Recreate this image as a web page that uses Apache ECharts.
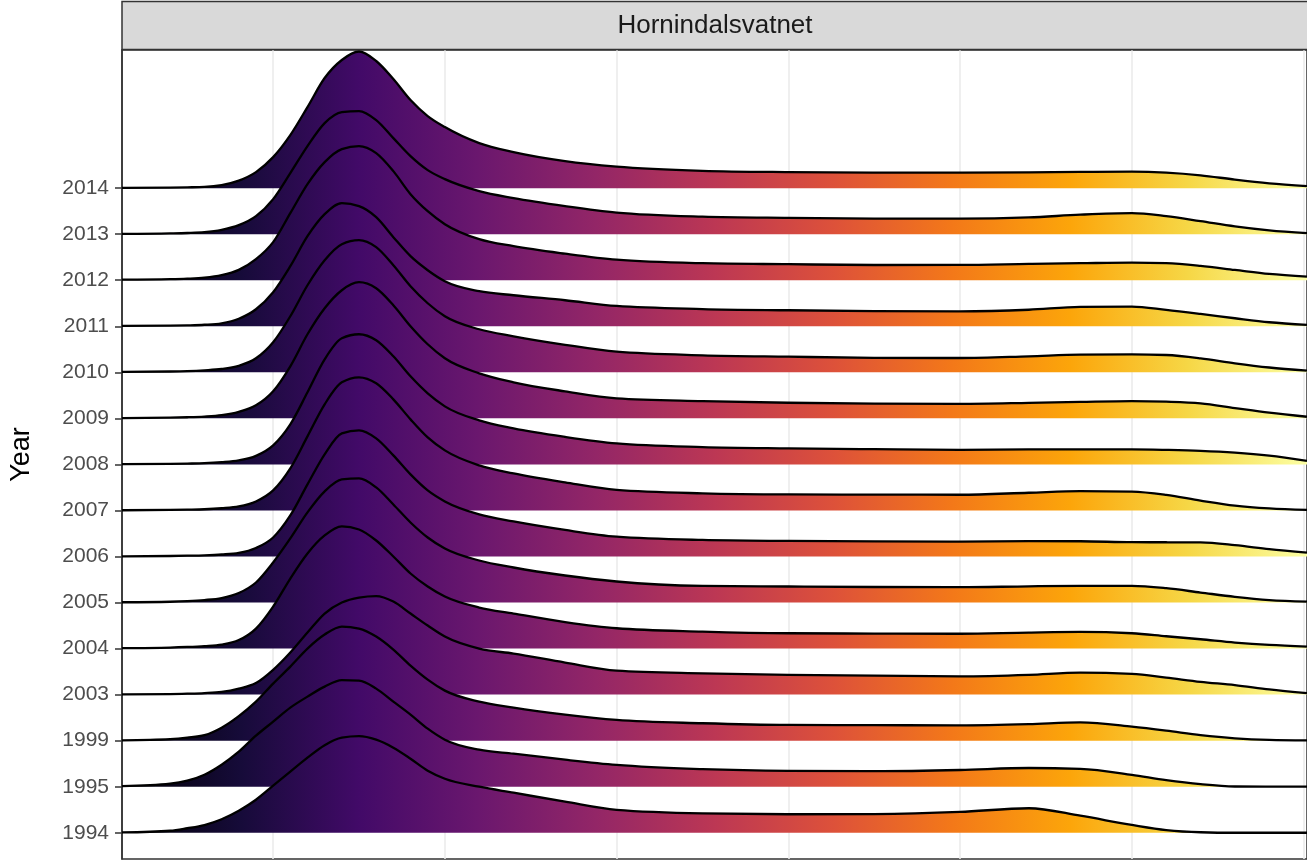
<!DOCTYPE html>
<html>
<head>
<meta charset="utf-8">
<script src="https://cdn.jsdelivr.net/npm/echarts@6/dist/echarts.min.js"></script>
<style>
html, body { margin: 0; padding: 0; background: #ffffff; }
#chart { width: 1307px; height: 860px; }
</style>
</head>
<body>
<div id="chart"></div>
<script>
// ---- data ----
const panelTitle = 'Hornindalsvatnet';
const yTitle = 'Year';
const years = ['1994','1995','1999','2003','2004','2005','2006','2007','2008','2009','2010','2011','2012','2013','2014'];
const gridBreaks = [100, 150, 200, 250, 300, 350, 400];

// common x positions of the density estimates
const xGrid = [56, 70, 75, 80, 85, 90, 95, 100, 105, 110, 115, 120, 125, 130, 135, 140, 145, 150, 160, 170, 185, 200, 225, 250, 275, 300, 320, 335, 350, 360, 370, 380, 390, 401];

// ridge heights (density, arbitrary units) per year
const d1994 = [0.3, 2, 4.5, 7.7, 13.5, 22, 33, 47, 61, 75, 87.5, 95, 96.5, 93, 85, 74, 62, 54, 46, 40, 31, 22.8, 19.3, 18.5, 18.7, 20.8, 24.5, 17, 7.8, 2.7, 0.5, 0, 0, 0];
const d1995 = [0.5, 3, 6, 12, 22, 35, 51, 65, 79, 90, 100, 106.5, 106, 98, 85, 72, 58, 47, 37, 33, 27, 21.8, 17.5, 15.8, 15.5, 16.7, 18.7, 17.8, 11.8, 6.5, 2.5, 0.2, 0, 0];
const d1999 = [0.3, 1.5, 3, 5.5, 13, 24.5, 39, 57, 74, 92, 106, 114, 112, 104, 91, 75, 61, 50, 39, 33, 26, 20.7, 17.4, 15.7, 15.5, 15.3, 16.5, 18.2, 14, 10, 5.5, 2.3, 0.7, 0.2];
const d2003 = [0.2, 0.5, 0.9, 1.5, 2.7, 6, 11.5, 24.7, 42, 62, 81, 92, 97, 98.5, 93, 81, 69, 58, 46, 41, 32, 24, 21.3, 19.7, 19, 18.3, 19.8, 22, 20.7, 17, 12.8, 9.5, 5.2, 1.4];
const d2004 = [0.4, 1, 1.6, 2.5, 4, 8.5, 20, 42, 70, 95, 113, 122, 119, 108, 92, 75, 62, 52, 41, 35, 26.5, 20.3, 17, 15.3, 15, 14.8, 16, 16.6, 15.3, 12.3, 9.3, 6, 3.6, 2];
const d2005 = [0.3, 0.8, 1.4, 2.5, 4.5, 9.5, 20, 40, 64, 90, 111, 123, 124, 115, 98, 80, 65, 54, 42, 35, 27, 21, 16.6, 16, 15.5, 15.3, 16.2, 16.6, 16.6, 14.3, 10, 5.7, 2.5, 1];
const d2006 = [0.2, 0.5, 0.8, 1.2, 2, 3.6, 8.5, 19, 41, 72, 102, 123, 126, 118, 101, 82, 66, 55, 42, 35, 26.5, 19.8, 16.5, 15.5, 15, 14.8, 15.3, 15.2, 14.3, 14.2, 14, 11.3, 7.3, 3.8];
const d2007 = [0.2, 0.5, 0.8, 1.2, 2.2, 4, 9, 20, 42, 74, 106, 128, 133, 127, 111, 91, 73, 60, 45, 37, 28, 20.5, 17.1, 16, 15.8, 15.7, 17.7, 19.3, 18.8, 15.5, 9.8, 4.8, 2, 0.5];
const d2008 = [0.2, 0.5, 0.8, 1.2, 2.2, 4, 8.5, 19, 40, 72, 105, 126, 130, 124, 108, 88, 71, 58, 44, 36, 27.5, 21, 17.3, 16, 15.2, 14.6, 15, 15, 15, 14.5, 13.6, 11.8, 8.8, 3.6];
const d2009 = [0.3, 0.7, 1.1, 1.8, 3.2, 6.5, 13, 27, 52, 84, 110, 128, 136, 130, 113, 92, 74, 60, 45, 36, 27, 20, 17.3, 15.6, 14.8, 14.5, 15.5, 16.5, 17.3, 16.7, 15, 10.3, 5.7, 1.6];
const d2010 = [0.4, 0.8, 1.2, 2, 3.3, 6.5, 14, 30, 56, 87, 112, 128, 132, 125, 107, 86, 69, 56, 43, 36, 27.5, 20.6, 17, 15.6, 14.5, 14.3, 16, 17.6, 18, 17.3, 14, 9, 4.8, 1.6];
const d2011 = [0.3, 0.6, 0.9, 1.5, 3, 7.5, 17, 34, 60, 90, 112, 123, 120, 109, 89, 70, 56, 45, 35, 31, 26, 20.3, 17.2, 16, 15.2, 14.8, 16.5, 19.3, 19.6, 16.3, 12.3, 8, 4, 1.3];
const d2012 = [0.5, 1, 1.5, 2.5, 5, 10.3, 21, 38, 67, 96, 118, 131, 134, 127, 109, 86, 69, 56, 41, 34, 26.5, 20.5, 17, 16, 15.2, 15.3, 16.3, 17, 17.6, 17, 14.3, 10.3, 6.3, 3.6];
const d2013 = [0.3, 0.8, 1.2, 2, 4.3, 9, 18, 35, 61, 88, 111, 122, 123, 114, 96, 78, 64, 55, 43, 36, 28, 21.5, 17.5, 16.3, 15.6, 15.5, 16.7, 19.5, 21, 18, 13, 7.8, 3.8, 1];
const d2014 = [0.2, 0.5, 0.8, 1.2, 3, 7.5, 16, 31, 53, 81, 110, 128, 136.5, 127, 109, 88, 72, 61, 45, 36, 27, 21.5, 17.3, 16, 15.5, 15.5, 15.8, 16.2, 16.5, 15.5, 12.8, 8.5, 4.8, 2];

const densities = [d1994, d1995, d1999, d2003, d2004, d2005, d2006, d2007, d2008, d2009, d2010, d2011, d2012, d2013, d2014];

// inferno palette
const inferno = ['#000004','#160B39','#420A68','#6A176E','#932667','#BC3754','#DD513A','#F37819','#FCA50A','#F6D746','#FCFFA4'];

// ---- chart ----
const RIDGE_SCALE = 1 / 46; // density units -> row heights
const rowIdx = years.map((_, i) => i);
const X_MIN = 56, X_MAX = 401;

// monotone cubic (in x) path through pixel points
function smoothPath(pts) {
  const n = pts.length;
  const h = [], s = [];
  for (let i = 0; i < n - 1; i++) {
    h.push(pts[i + 1][0] - pts[i][0]);
    s.push((pts[i + 1][1] - pts[i][1]) / h[i]);
  }
  const t = new Array(n);
  for (let i = 1; i < n - 1; i++) {
    const p = (s[i - 1] * h[i] + s[i] * h[i - 1]) / (h[i - 1] + h[i]);
    t[i] = (Math.sign(s[i - 1]) + Math.sign(s[i])) *
      Math.min(Math.abs(s[i - 1]), Math.abs(s[i]), 0.5 * Math.abs(p)) || 0;
  }
  t[0] = (3 * s[0] - t[1]) / 2;
  t[n - 1] = (3 * s[n - 2] - t[n - 2]) / 2;
  let d = 'M' + pts[0][0] + ' ' + pts[0][1];
  for (let i = 0; i < n - 1; i++) {
    const dx = h[i] / 3;
    d += ' C' + (pts[i][0] + dx) + ' ' + (pts[i][1] + t[i] * dx) + ' ' +
      (pts[i + 1][0] - dx) + ' ' + (pts[i + 1][1] - t[i + 1] * dx) + ' ' +
      pts[i + 1][0] + ' ' + pts[i + 1][1];
  }
  return d;
}

function ridgeRenderer(k) {
  return function (params, api) {
    const dens = densities[k];
    const pts = xGrid.map((x, j) => api.coord([x, k + dens[j] * RIDGE_SCALE]));
    const b0 = api.coord([xGrid[0], k]);
    const b1 = api.coord([xGrid[xGrid.length - 1], k]);
    const curve = smoothPath(pts);
    const area = curve + ' L' + b1[0] + ' ' + b1[1] + ' L' + b0[0] + ' ' + b0[1] + ' Z';
    const gx0 = api.coord([X_MIN, 0])[0];
    const gx1 = api.coord([X_MAX, 0])[0];
    const fill = new echarts.graphic.LinearGradient(gx0, 0, gx1, 0,
      inferno.map((c, i) => ({ offset: i / (inferno.length - 1), color: c })), true);
    return {
      type: 'group',
      children: [
        { type: 'path', shape: { pathData: area }, style: { fill: fill, stroke: null } },
        { type: 'path', shape: { pathData: curve },
          style: { fill: null, stroke: '#000000', lineWidth: 2.3, lineJoin: 'round', lineCap: 'butt' } }
      ]
    };
  };
}

const series = [{
  type: 'line', z: 0, silent: true, symbol: 'none', data: [],
  markLine: {
    z: 0, silent: true, symbol: ['none', 'none'], label: { show: false },
    lineStyle: { color: '#ebebeb', width: 1.6, type: 'solid' },
    data: gridBreaks.map(v => ({ xAxis: v }))
  }
}];
// draw top rows first so lower rows overlap them
for (let k = years.length - 1; k >= 0; k--) {
  const order = years.length - 1 - k;
  series.push({
    name: years[k],
    type: 'custom', coordinateSystem: 'cartesian2d',
    z: 2 + order, silent: true, clip: true,
    data: [[X_MIN, k]],
    renderItem: ridgeRenderer(k)
  });
}

const chart = echarts.init(document.getElementById('chart'), null, { renderer: 'canvas' });
chart.setOption({
  animation: false,
  backgroundColor: '#ffffff',
  grid: {
    left: 122, top: 50, width: 1187, bottom: 1,
    show: true, borderColor: '#333333', borderWidth: 1.5, backgroundColor: 'transparent'
  },
  xAxis: {
    type: 'value', min: X_MIN, max: X_MAX,
    axisLabel: { show: false }, axisTick: { show: false },
    axisLine: { show: false }, splitLine: { show: false }
  },
  yAxis: {
    type: 'value', min: -0.57, max: 17.0,
    name: yTitle, nameLocation: 'middle', nameGap: 87,
    nameTextStyle: { fontSize: 27, color: '#000000', fontFamily: 'Liberation Sans' },
    axisLine: { show: true, lineStyle: { color: '#333333', width: 1.5 } },
    axisTick: { show: true, length: 7, customValues: rowIdx, lineStyle: { color: '#333333', width: 1.5 } },
    axisLabel: {
      customValues: rowIdx,
      formatter: v => years[Math.round(v)],
      fontSize: 21, color: '#4d4d4d', margin: 13, fontFamily: 'Liberation Sans'
    },
    splitLine: { show: false }
  },
  graphic: [
    {
      type: 'rect', z: 100, silent: true,
      shape: { x: 122, y: 1.5, width: 1190, height: 48 },
      style: { fill: '#d9d9d9', stroke: '#333333', lineWidth: 1.5 }
    },
    {
      type: 'text', z: 101, silent: true,
      x: 715, y: 26,
      style: {
        text: panelTitle, fontSize: 26, fill: '#1a1a1a', fontFamily: 'Liberation Sans',
        align: 'center', verticalAlign: 'middle'
      }
    }
  ],
  series: series
});
</script>
</body>
</html>
